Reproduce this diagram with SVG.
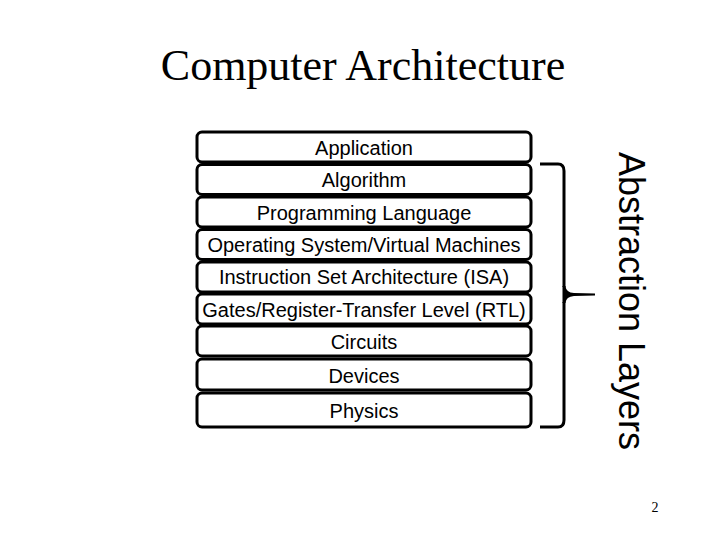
<svg xmlns="http://www.w3.org/2000/svg" width="720" height="540" viewBox="0 0 720 540">
<style>
.box{fill:#fff;stroke:#000;stroke-width:3}
.lbl{font-family:"Liberation Sans",Arial,sans-serif;font-size:20px;text-anchor:middle;fill:#000}
</style>
<rect width="720" height="540" fill="#fff"/>
<text x="363" y="80" font-family="'Liberation Serif','Times New Roman',serif" font-size="44" text-anchor="middle">Computer Architecture</text>
<g id="application"><rect class="box" x="197" y="132" width="334" height="30" rx="5"/><text class="lbl" x="364" y="154.5">Application</text></g>
<g id="algorithm"><rect class="box" x="197" y="164.5" width="334" height="30" rx="5"/><text class="lbl" x="364" y="187">Algorithm</text></g>
<g id="programming-language"><rect class="box" x="197" y="197" width="334" height="30" rx="5"/><text class="lbl" x="364" y="219.5">Programming Language</text></g>
<g id="operating-system"><rect class="box" x="197" y="229.5" width="334" height="30" rx="5"/><text class="lbl" x="364" y="251.5">Operating System/Virtual Machines</text></g>
<g id="isa"><rect class="box" x="197" y="262" width="334" height="30" rx="5"/><text class="lbl" x="364" y="284">Instruction Set Architecture (ISA)</text></g>
<g id="gates-rtl"><rect class="box" x="197" y="294" width="334" height="30" rx="5"/><text class="lbl" x="364" y="316.5">Gates/Register-Transfer Level (RTL)</text></g>
<g id="circuits"><rect class="box" x="197" y="326" width="334" height="30" rx="5"/><text class="lbl" x="364" y="348.5">Circuits</text></g>
<g id="devices"><rect class="box" x="197" y="359" width="334" height="31" rx="5"/><text class="lbl" x="364" y="382.5">Devices</text></g>
<g id="physics"><rect class="box" x="197" y="393" width="334" height="34" rx="5"/><text class="lbl" x="364" y="417.5">Physics</text></g>
<g id="connectors">
<path d="M540 164 H558 Q564 164 564 171 V287 M564 302 V420 Q564 427 558 427 H540" fill="none" stroke="#000" stroke-width="3"/>
<path d="M562.5 286 L565.5 286 Q566 292.5 574 293 L595 293.5 L595 295.5 L574 296 Q566 296.5 565.5 303 L562.5 303 Z" fill="#000"/>
</g>
<g id="abstraction-layers"><text transform="translate(619,301) rotate(90)" font-family="'Liberation Sans',Arial,sans-serif" font-size="36" text-anchor="middle">Abstraction Layers</text></g>
<text x="655" y="512" font-family="'Liberation Serif','Times New Roman',serif" font-size="14" text-anchor="middle">2</text>
</svg>
